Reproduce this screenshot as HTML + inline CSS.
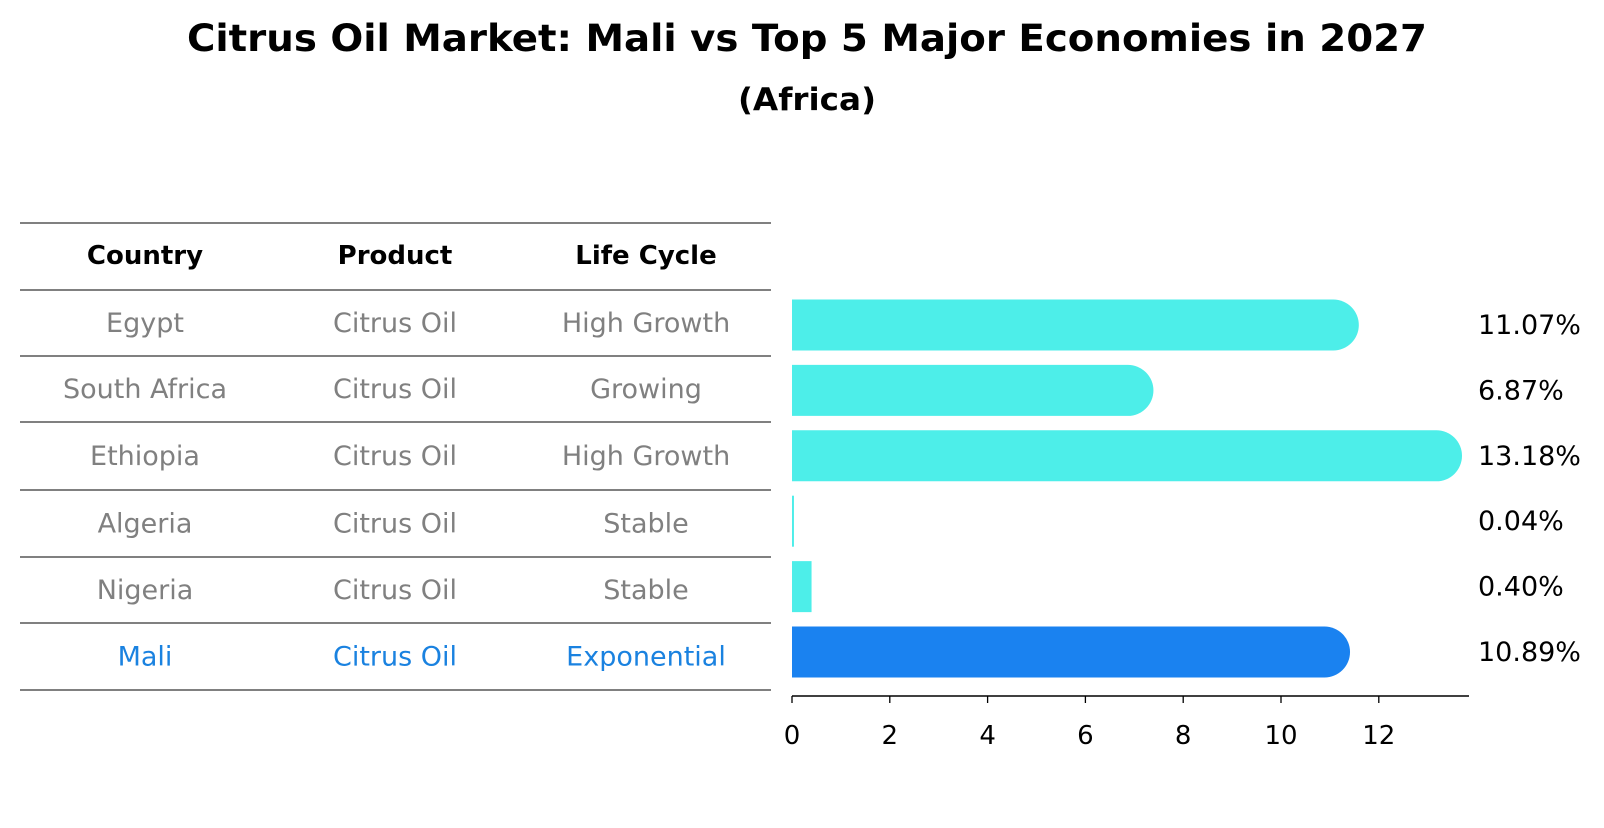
<!DOCTYPE html>
<html><head><meta charset="utf-8"><style>
body{margin:0;background:#fff;font-family:"Liberation Sans","DejaVu Sans",sans-serif}
</style></head><body>
<svg width="1604" height="823" xmlns="http://www.w3.org/2000/svg" font-family="DejaVu Sans, Liberation Sans, sans-serif">
<text x="807" y="51" text-anchor="middle" font-size="37" font-weight="bold" textLength="1240" lengthAdjust="spacingAndGlyphs">Citrus Oil Market: Mali vs Top 5 Major Economies in 2027</text>
<text x="807" y="110" text-anchor="middle" font-size="31" font-weight="bold" textLength="138" lengthAdjust="spacingAndGlyphs">(Africa)</text>
<g id="table"></g>
<g id="bars"></g>
<g id="axis"></g>
</svg>
<script>
const countries=["Egypt","South Africa","Ethiopia","Algeria","Nigeria","Mali"];
const products=["Citrus Oil","Citrus Oil","Citrus Oil","Citrus Oil","Citrus Oil","Citrus Oil"];
const lifeCycles=["High Growth","Growing","High Growth","Stable","Stable","Exponential"];
const values=[11.07,6.87,13.18,0.04,0.40,10.89];
const valueLabels=["11.07%","6.87%","13.18%","0.04%","0.40%","10.89%"];
const ticks=[0,2,4,6,8,10,12];
const NS="http://www.w3.org/2000/svg";
function mk(t,a,p){const e=document.createElementNS(NS,t);for(const k in a)e.setAttribute(k,a[k]);p.appendChild(e);return e;}
const x0=792,pxu=48.9;
const xs=v=>x0+v*pxu;
const rowY=i=>325+i*65.4;
const tb=document.getElementById('table');
const lines=[223,290,356,422,490,557,623,690];
lines.forEach((y,i)=>{const l=mk('line',{x1:20,x2:771,y1:y,y2:y,stroke:'#000','stroke-width':1},tb);

});
const cx=[145,395,646];
["Country","Product","Life Cycle"].forEach((h,j)=>{const t=mk('text',{x:cx[j],y:264,'text-anchor':'middle','font-size':26,'font-weight':'bold'},tb);t.textContent=h;

});
countries.forEach((c,i)=>{
 const y=(lines[i+1]+lines[i+2])/2+9;
 const col=i===5?'#1a82e0':'#808080';
 [c,products[i],lifeCycles[i]].forEach((s,j)=>{const t=mk('text',{x:cx[j],y:y,'text-anchor':'middle','font-size':27,fill:col},tb);t.textContent=s;
 
 });
});
const bg=document.getElementById('bars');
const h=51;
values.forEach((v,i)=>{
 const yc=rowY(i),col=i===5?'#1a82f0':'#4deee9';
 const w=v*pxu;
 let d;
 if(v>1){const r=h/2;d=`M${x0},${yc-r}H${x0+w}A${r},${r} 0 0 1 ${x0+w},${yc+r}H${x0}Z`;}
 else d=`M${x0},${yc-h/2}h${Math.max(w,1.5)}v${h}h${-Math.max(w,1.5)}Z`;
 const p=mk('path',{d:d,fill:col},bg);
 
 
 const t=mk('text',{x:1478,y:yc+9,'font-size':27},bg);t.textContent=valueLabels[i];
 
 
});
const ax=document.getElementById('axis');
const al=mk('line',{x1:x0,x2:1469,y1:696,y2:696,stroke:'#000','stroke-width':1.5},ax);


ticks.forEach(v=>{
 const tl=mk('line',{x1:xs(v),x2:xs(v),y1:696,y2:703,stroke:'#000','stroke-width':1.3},ax);
 
 
 const t=mk('text',{x:xs(v),y:744,'text-anchor':'middle','font-size':26},ax);t.textContent=v;
 
 
});
</script>
</body></html>
